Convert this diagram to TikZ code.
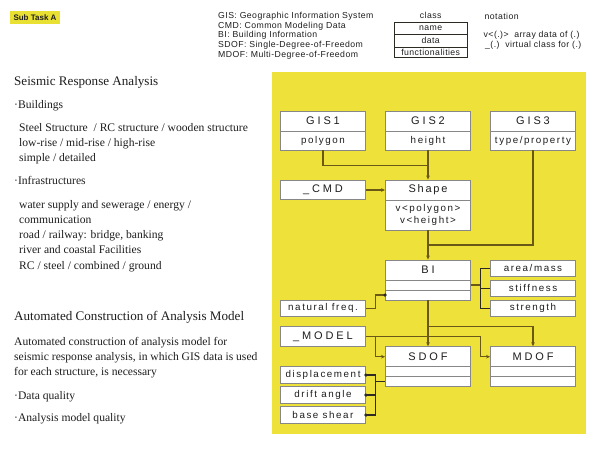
\documentclass[tikz,border=0pt]{standalone}
\usepackage{fontspec}
\setmainfont{Liberation Serif}
\setsansfont{Liberation Sans}
\newfontfamily\ttlfont[LetterSpace=26]{Liberation Sans}
\newfontfamily\subfont[LetterSpace=16]{Liberation Sans}
\newfontfamily\legfont[LetterSpace=5]{Liberation Sans}
\usetikzlibrary{arrows.meta}
\definecolor{panel}{RGB}{238,226,58}
\definecolor{subyel}{RGB}{232,224,50}
\definecolor{boxgray}{RGB}{135,135,135}
\definecolor{flowc}{RGB}{105,88,22}
\definecolor{darkc}{RGB}{45,42,35}
\definecolor{txt}{RGB}{30,30,30}
\begin{document}
\begin{tikzpicture}[x=1pt,y=-1pt,
  cell/.style={draw=boxgray, fill=white, line width=0.9pt, inner sep=0pt, minimum width=85pt, text=txt},
  ttl/.style={cell, font=\ttlfont\fontsize{11}{12}\selectfont},
  sub/.style={cell, font=\subfont\fontsize{9.8}{11.4}\selectfont},
  flow/.style={draw=flowc, line width=1.4pt},
  brk/.style={draw=darkc, line width=1.1pt},
  arr/.style={-{Stealth[length=4pt,width=3.6pt]}},
  dotc/.style={circle, fill=darkc, inner sep=0pt, minimum size=3.6pt},
  lt/.style={anchor=base west, inner sep=0pt, font=\fontsize{11.6}{14}\selectfont, text=txt},
  hd/.style={anchor=base west, inner sep=0pt, font=\fontsize{13.1}{15}\selectfont, text=txt},
  leg/.style={anchor=west, inner sep=0pt, font=\legfont\fontsize{8.7}{10}\selectfont, text=txt},
  lcell/.style={draw=darkc, line width=0.8pt, inner sep=0pt, minimum width=73.3pt, font=\legfont\fontsize{8.7}{10}\selectfont, text=txt},
]
\useasboundingbox (0,0) rectangle (600,450);
\fill[white] (0,0) rectangle (600,450);

% header
\node[fill=subyel, inner sep=0pt, minimum width=50pt, minimum height=13.6pt, font=\sffamily\bfseries\fontsize{8}{9.6}\selectfont, text=txt] (sta) at (35,17.5) {Sub Task A};

\node[leg] (l1) at (218,16) {GIS: Geographic Information System};
\node[leg] (l2) at (218,26) {CMD: Common Modeling Data};
\node[leg] (l3) at (218,35.7) {BI: Building Information};
\node[leg] (l4) at (218,45.3) {SDOF: Single-Degree-of-Freedom};
\node[leg] (l5) at (218,55.3) {MDOF: Multi-Degree-of-Freedom};

\node[inner sep=0pt, font=\legfont\fontsize{8.7}{10}\selectfont, text=txt] (cls) at (430.7,15) {class};
\node[lcell, minimum height=12.7pt] (cn) at (430.7,28.35) {name};
\node[lcell, minimum height=12.3pt] (cd) at (430.7,40.85) {data};
\node[lcell, minimum height=10.6pt] (cf) at (430.7,52.3) {functionalities};

\node[leg] (n1) at (484.5,16.3) {notation};
\node[leg] (n2) at (483.5,35.7) {v<(.)>\ \ array data of (.)};
\node[leg] (n3) at (485,45.7) {\_(.)\ \ virtual class for (.)};

% left text
\node[hd] (h1) at (14,85) {Seismic Response Analysis};
\node[lt] (b1) at (14,108.5) {·Buildings};
\node[lt] (t1) at (19,131.7) {Steel Structure \ / RC structure / wooden structure};
\node[lt] (t2) at (19,146.5) {low-rise / mid-rise / high-rise};
\node[lt] (t3) at (19,161.7) {simple / detailed};
\node[lt] (b2) at (14,184) {·Infrastructures};
\node[lt] (t4) at (19,208.3) {water supply and sewerage / energy /};
\node[lt] (t5) at (19,223.3) {communication};
\node[lt] (t6) at (19,238.3) {road / railway: bridge, banking};
\node[lt] (t7) at (19,253.3) {river and coastal Facilities};
\node[lt] (t8) at (19,269) {RC / steel / combined / ground};
\node[hd] (h2) at (14,320.7) {Automated Construction of Analysis Model};
\node[lt] (a1) at (14,345) {Automated construction of analysis model for};
\node[lt] (a2) at (14,360.3) {seismic response analysis, in which GIS data is used};
\node[lt] (a3) at (14,375.7) {for each structure, is necessary};
\node[lt] (a4) at (14,399) {·Data quality};
\node[lt] (a5) at (14,421) {·Analysis model quality};

% panel
\node[fill=panel, inner sep=0pt, minimum width=314.5pt, minimum height=362.5pt, anchor=north west] (panel) at (271.5,71.5) {};

% boxes
\node[ttl, minimum height=20pt] (g1t) at (323,121) {GIS1};
\node[sub, minimum height=19pt] (g1d) at (323,140.5) {polygon};
\node[ttl, minimum height=20pt] (g2t) at (428,121) {GIS2};
\node[sub, minimum height=19pt] (g2d) at (428,140.5) {height};
\node[ttl, minimum height=20pt] (g3t) at (533,121) {GIS3};
\node[sub, minimum height=19pt] (g3d) at (533,140.5) {type/property};

\node[ttl, minimum height=18.5pt] (cmd) at (323,190) {\_CMD};
\node[ttl, minimum height=20pt, font=\subfont\fontsize{11}{12}\selectfont] (sht) at (428,190) {Shape};
\node[sub, minimum height=30pt, align=center] (shd) at (428,215) {v<polygon>\\v<height>};

\node[ttl, minimum height=20pt] (bit) at (428,270) {BI};
\node[cell, minimum height=10pt] (bim) at (428,285) {};
\node[cell, minimum height=10pt] (bib) at (428,295) {};

\node[sub, minimum height=16.7pt] (am) at (533,268.3) {area/mass};
\node[sub, minimum height=16.7pt] (sf) at (533,288.3) {stiffness};
\node[sub, minimum height=16.7pt] (sg) at (533,308.3) {strength};

\node[sub, minimum height=16.7pt] (nf) at (323,308.3) {natural freq.};
\node[ttl, minimum height=19.3pt] (mdl) at (323,336.3) {\_MODEL};

\node[ttl, minimum height=20pt] (sdt) at (428,356.7) {SDOF};
\node[cell, minimum height=10pt] (sdm) at (428,371.7) {};
\node[cell, minimum height=10pt] (sdb) at (428,381.7) {};
\node[ttl, minimum height=20pt] (mdt) at (533,356.7) {MDOF};
\node[cell, minimum height=10pt] (mdm) at (533,371.7) {};
\node[cell, minimum height=10pt] (mdb) at (533,381.7) {};

\node[sub, minimum height=16.7pt] (dp) at (323,375) {displacement};
\node[sub, minimum height=16.7pt] (da) at (323,395) {drift angle};
\node[sub, minimum height=16.7pt] (bs) at (323,415) {base shear};

% junctions
\coordinate (j1) at (428,165.5);
\coordinate (j2) at (428,245);
\coordinate (bx) at (480.7,288);
\coordinate (nx) at (375.3,300);
\coordinate (j4) at (428,326.7);
\coordinate (mx) at (480.7,340);
\coordinate (sx) at (375.3,340);
\coordinate (dx) at (375.3,395);

% connectors
\draw[flow] (g1d.south) |- (j1);
\draw[flow,arr] (g2d.south) -- (sht.north);
\draw[flow] (g3d.south) |- (j2);
\draw[flow,arr] (shd.south) -- (bit.north);
\draw[flow,arr] (cmd.east) -- (sht.west);
\draw[flow] (bim.east) -- (bim.east -| bx);
\draw[brk] (am.west) -| (bx) |- (sg.west);
\draw[brk] (sf.west) -- (sf.west -| bx);
\draw[flow] (nf.east) -| (nx) |- (bib.west);
\node[dotc] (d0) at (bib.west) {};
\draw[flow,arr] (bib.south) -- (sdt.north);
\draw[flow,arr] (j4) -| (mdt.north);
\draw[flow,arr] (mdl.east) -- (mdl.east -| mx) |- (mdt.west);
\draw[flow,arr] (mdl.east -| sx) |- (sdt.west);
\draw[brk] (dp.east) -| (dx) |- (bs.east);
\draw[brk] (da.east) -- (dx);
\draw[brk] (sdb.west) -- (sdb.west -| dx);
\node[dotc] (d1) at (dp.east) {};
\node[dotc] (d2) at (da.east) {};
\node[dotc] (d3) at (bs.east) {};
\end{tikzpicture}
\end{document}
